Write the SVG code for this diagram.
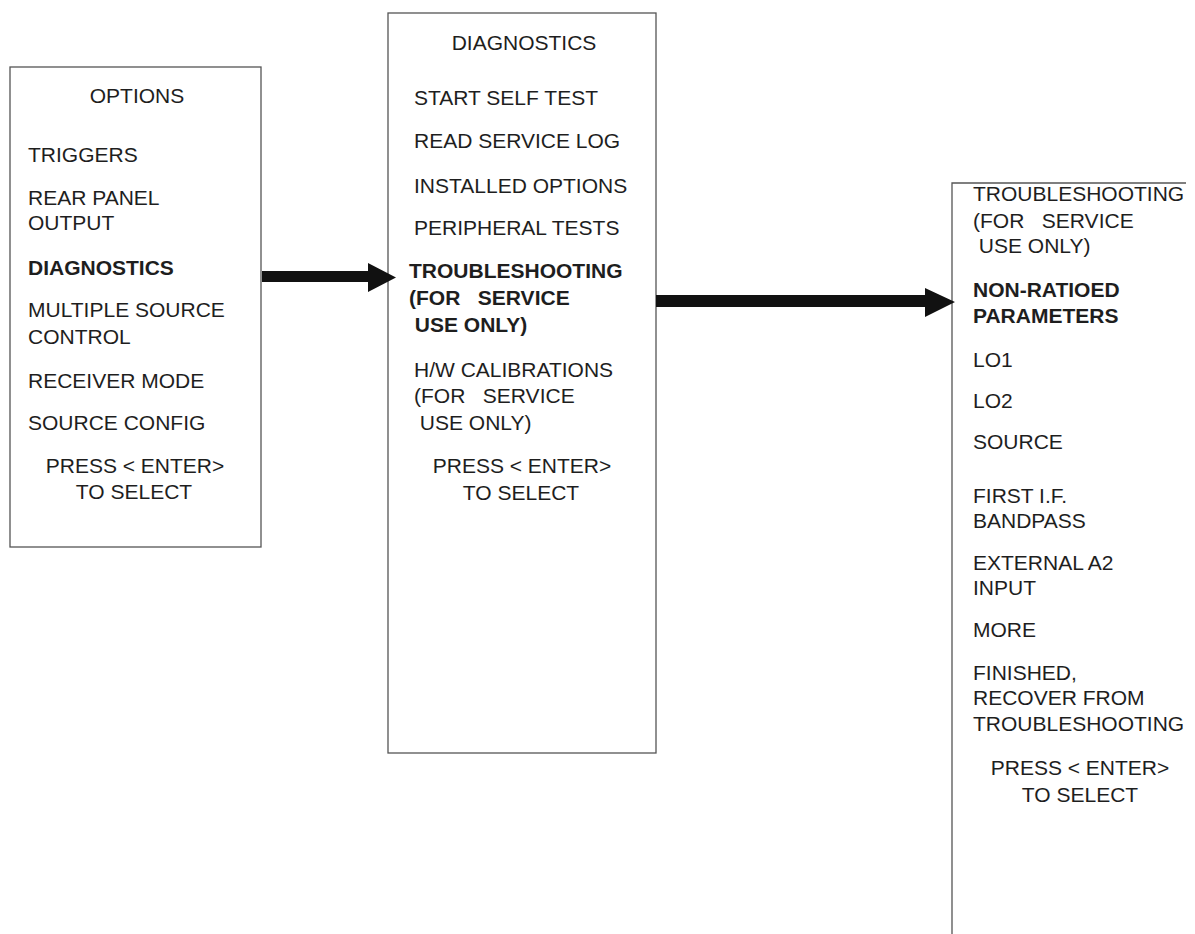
<svg xmlns="http://www.w3.org/2000/svg" width="1195" height="934" viewBox="0 0 1195 934">
<style>
text{font-family:"Liberation Sans",Arial,sans-serif;font-size:21px;fill:#1e1e1e;white-space:pre}
.b{font-weight:bold}
.c{text-anchor:middle}
.box{fill:none;stroke:#555;stroke-width:1.3}
.shaft{fill:#111}
</style>
<rect width="1195" height="934" fill="#fff"/>
<g id="options">
<rect class="box" x="10" y="67" width="251" height="480"/>
<text class="c" x="137" y="103">OPTIONS</text>
<text x="28" y="162">TRIGGERS</text>
<text x="28" y="205">REAR PANEL</text>
<text x="28" y="230">OUTPUT</text>
<text class="b" x="28" y="275">DIAGNOSTICS</text>
<text x="28" y="317">MULTIPLE SOURCE</text>
<text x="28" y="344">CONTROL</text>
<text x="28" y="388">RECEIVER MODE</text>
<text x="28" y="430">SOURCE CONFIG</text>
<text class="c" x="135" y="473">PRESS &lt; ENTER&gt;</text>
<text class="c" x="134" y="499">TO SELECT</text>
</g>
<g id="diagnostics">
<rect class="box" x="388" y="13" width="268" height="740"/>
<text class="c" x="524" y="50">DIAGNOSTICS</text>
<text x="414" y="105">START SELF TEST</text>
<text x="414" y="148">READ SERVICE LOG</text>
<text x="414" y="193">INSTALLED OPTIONS</text>
<text x="414" y="235">PERIPHERAL TESTS</text>
<text class="b" x="409" y="278">TROUBLESHOOTING</text>
<text class="b" x="409" y="305" xml:space="preserve">(FOR   SERVICE</text>
<text class="b" x="409" y="332" xml:space="preserve"> USE ONLY)</text>
<text x="414" y="377">H/W CALIBRATIONS</text>
<text x="414" y="403" xml:space="preserve">(FOR   SERVICE</text>
<text x="414" y="430" xml:space="preserve"> USE ONLY)</text>
<text class="c" x="522" y="473">PRESS &lt; ENTER&gt;</text>
<text class="c" x="521" y="500">TO SELECT</text>
</g>
<g id="troubleshooting">
<path class="box" d="M1186 183 H952 V934"/>
<text x="973" y="201">TROUBLESHOOTING</text>
<text x="973" y="228" xml:space="preserve">(FOR   SERVICE</text>
<text x="973" y="253" xml:space="preserve"> USE ONLY)</text>
<text class="b" x="973" y="297">NON-RATIOED</text>
<text class="b" x="973" y="323">PARAMETERS</text>
<text x="973" y="367">LO1</text>
<text x="973" y="408">LO2</text>
<text x="973" y="449">SOURCE</text>
<text x="973" y="503">FIRST I.F.</text>
<text x="973" y="528">BANDPASS</text>
<text x="973" y="570">EXTERNAL A2</text>
<text x="973" y="595">INPUT</text>
<text x="973" y="637">MORE</text>
<text x="973" y="680">FINISHED,</text>
<text x="973" y="705">RECOVER FROM</text>
<text x="973" y="731">TROUBLESHOOTING</text>
<text class="c" x="1080" y="775">PRESS &lt; ENTER&gt;</text>
<text class="c" x="1080" y="802">TO SELECT</text>
</g>
<g id="connectors">
<path class="shaft" d="M262 271 H368 V263 L396 277.5 L368 292 V282 H262 Z"/>
<path class="shaft" d="M656 295 H925 V288 L955 302 L925 317 V307 H656 Z"/>
</g>
</svg>
